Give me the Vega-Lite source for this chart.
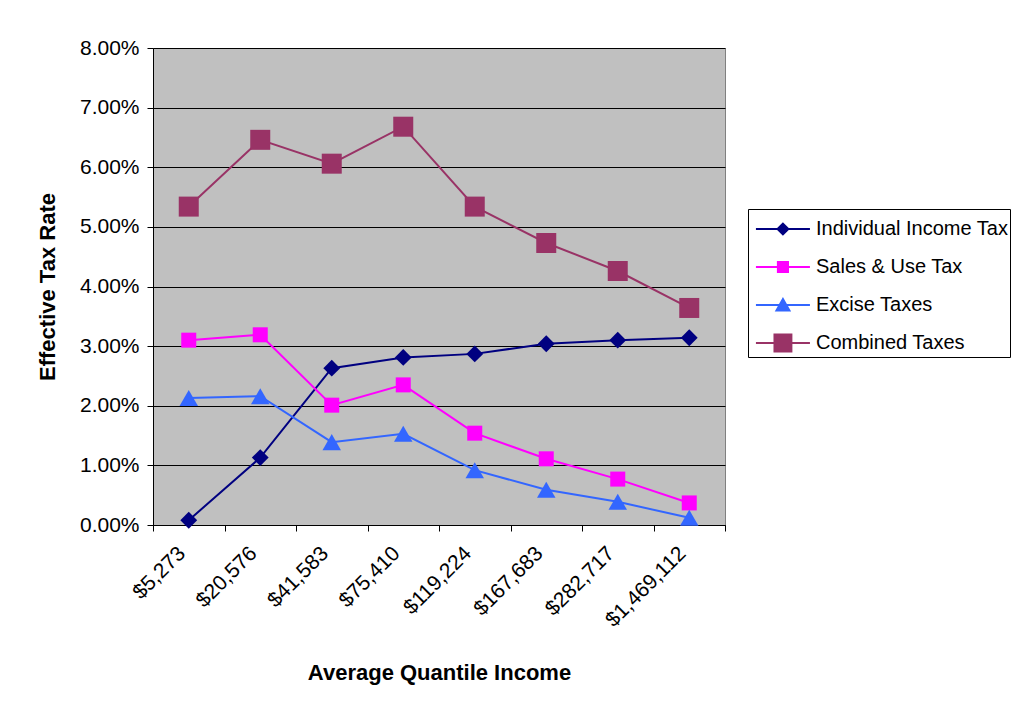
{
  "$schema": "https://vega.github.io/schema/vega-lite/v6.json",
  "width": 572,
  "height": 477,
  "autosize": {"type": "none"},
  "padding": {"left": 153, "top": 48, "right": 296, "bottom": 184},
  "background": "white",
  "config": {
    "view": {"fill": "#C0C0C0", "stroke": "#808080", "strokeWidth": 1},
    "font": "Liberation Sans",
    "axis": {"labelFont": "Liberation Sans", "titleFont": "Liberation Sans", "labelColor": "black", "titleColor": "black", "domainColor": "black", "tickColor": "black"}
  },
  "data": {
    "values": [
      {"income": "$5,273", "series": "Individual Income Tax", "rate": 0.0008},
      {"income": "$20,576", "series": "Individual Income Tax", "rate": 0.0113},
      {"income": "$41,583", "series": "Individual Income Tax", "rate": 0.0263},
      {"income": "$75,410", "series": "Individual Income Tax", "rate": 0.0281},
      {"income": "$119,224", "series": "Individual Income Tax", "rate": 0.0287},
      {"income": "$167,683", "series": "Individual Income Tax", "rate": 0.0304},
      {"income": "$282,717", "series": "Individual Income Tax", "rate": 0.0310},
      {"income": "$1,469,112", "series": "Individual Income Tax", "rate": 0.0314},
      {"income": "$5,273", "series": "Sales & Use Tax", "rate": 0.0310},
      {"income": "$20,576", "series": "Sales & Use Tax", "rate": 0.0319},
      {"income": "$41,583", "series": "Sales & Use Tax", "rate": 0.0201},
      {"income": "$75,410", "series": "Sales & Use Tax", "rate": 0.0235},
      {"income": "$119,224", "series": "Sales & Use Tax", "rate": 0.0154},
      {"income": "$167,683", "series": "Sales & Use Tax", "rate": 0.0111},
      {"income": "$282,717", "series": "Sales & Use Tax", "rate": 0.0077},
      {"income": "$1,469,112", "series": "Sales & Use Tax", "rate": 0.0037},
      {"income": "$5,273", "series": "Excise Taxes", "rate": 0.0213},
      {"income": "$20,576", "series": "Excise Taxes", "rate": 0.0216},
      {"income": "$41,583", "series": "Excise Taxes", "rate": 0.0139},
      {"income": "$75,410", "series": "Excise Taxes", "rate": 0.0153},
      {"income": "$119,224", "series": "Excise Taxes", "rate": 0.0092},
      {"income": "$167,683", "series": "Excise Taxes", "rate": 0.0059},
      {"income": "$282,717", "series": "Excise Taxes", "rate": 0.0039},
      {"income": "$1,469,112", "series": "Excise Taxes", "rate": 0.0012},
      {"income": "$5,273", "series": "Combined Taxes", "rate": 0.0534},
      {"income": "$20,576", "series": "Combined Taxes", "rate": 0.0646},
      {"income": "$41,583", "series": "Combined Taxes", "rate": 0.0606},
      {"income": "$75,410", "series": "Combined Taxes", "rate": 0.0668},
      {"income": "$119,224", "series": "Combined Taxes", "rate": 0.0534},
      {"income": "$167,683", "series": "Combined Taxes", "rate": 0.0473},
      {"income": "$282,717", "series": "Combined Taxes", "rate": 0.0426},
      {"income": "$1,469,112", "series": "Combined Taxes", "rate": 0.0364}
    ]
  },
  "encoding": {
    "x": {
      "field": "income", "type": "nominal", "sort": null,
      "scale": {"type": "band", "paddingInner": 0, "paddingOuter": 0},
      "axis": {
        "title": "Average Quantile Income", "titleFontSize": 22, "titleFontWeight": "bold", "titlePadding": 32,
        "labelFontSize": 21, "labelAngle": -45, "labelAlign": "right", "labelBaseline": "middle",
        "tickBand": "extent", "tickSize": 6, "labelPadding": 19, "labelOffset": -7, "grid": false, "domainWidth": 1
      }
    },
    "y": {
      "field": "rate", "type": "quantitative",
      "scale": {"domain": [0, 0.08], "nice": false, "zero": true},
      "axis": {
        "title": "Effective Tax Rate", "titleFontSize": 22, "titleFontWeight": "bold", "titlePadding": 20,
        "format": ".2%", "values": [0, 0.01, 0.02, 0.03, 0.04, 0.05, 0.06, 0.07, 0.08],
        "labelFontSize": 21, "tickSize": 6, "labelPadding": 8,
        "grid": true, "gridColor": "black", "gridOpacity": 1, "gridWidth": 1
      }
    }
  },
  "resolve": {"scale": {"shape": "independent", "color": "independent"}, "legend": {"shape": "independent", "color": "independent"}},
  "layer": [
    {
      "mark": {"type": "line", "strokeWidth": 2},
      "encoding": {
        "stroke": {"field": "series", "type": "nominal", "legend": null,
          "scale": {"domain": ["Combined Taxes", "Excise Taxes", "Sales & Use Tax", "Individual Income Tax"], "range": ["#993366", "#3366FF", "#FF00FF", "#000080"]}}
      }
    },
    {
      "mark": {"type": "point", "filled": true, "opacity": 1, "strokeWidth": 0},
      "encoding": {
        "fill": {"field": "series", "type": "nominal", "legend": null,
          "scale": {"domain": ["Excise Taxes", "Combined Taxes", "Individual Income Tax", "Sales & Use Tax"], "range": ["#3366FF", "#993366", "#000080", "#FF00FF"]}},
        "shape": {"field": "series", "type": "nominal", "legend": null,
          "scale": {"domain": ["Sales & Use Tax", "Combined Taxes", "Excise Taxes", "Individual Income Tax"], "range": ["square", "square", "triangle-up", "diamond"]}},
        "size": {"field": "series", "type": "nominal", "legend": null,
          "scale": {"domain": ["Combined Taxes", "Excise Taxes", "Individual Income Tax", "Sales & Use Tax"], "range": [400, 225, 169, 169]}}
      }
    },
    {
      "transform": [{"filter": "datum.rate < 0"}],
      "mark": {"type": "point", "filled": false, "opacity": 1, "strokeWidth": 2},
      "encoding": {
        "color": {"field": "series", "type": "nominal",
          "scale": {"domain": ["Individual Income Tax", "Sales & Use Tax", "Excise Taxes", "Combined Taxes"], "range": ["#000080", "#FF00FF", "#3366FF", "#993366"]},
          "legend": {
            "title": null, "orient": "none", "legendX": 595, "legendY": 161,
            "labelFontSize": 20, "labelColor": "black", "labelFont": "Liberation Sans",
            "symbolSize": 1296, "symbolStrokeWidth": 2, "labelOffset": 29, "rowPadding": 9, "padding": 1,
            "strokeColor": "black", "fillColor": "white", "labelLimit": 400
          }
        },
        "shape": {"field": "series", "type": "nominal",
          "scale": {"domain": ["Individual Income Tax", "Sales & Use Tax", "Excise Taxes", "Combined Taxes"],
            "range": [
              "M-0.67,0H2.33M0.83,-0.3L1.13,0L0.83,0.3L0.53,0ZM0.83,-0.22L1.05,0L0.83,0.22L0.61,0ZM0.83,-0.14L0.97,0L0.83,0.14L0.69,0ZM0.83,-0.06L0.89,0L0.83,0.06L0.77,0Z",
              "M-0.67,0H2.33M0.55,-0.28H1.11V0.28H0.55ZM0.63,-0.2H1.03V0.2H0.63ZM0.71,-0.12H0.95V0.12H0.71ZM0.79,-0.04H0.87V0.04H0.79Z",
              "M-0.67,0H2.33M0.47,0.3L1.19,0.3L0.83,-0.33ZM0.58,0.21L1.08,0.21L0.83,-0.23ZM0.69,0.12L0.97,0.12L0.83,-0.13ZM0.79,0.03L0.87,0.03L0.83,-0.03Z",
              "M-0.67,0H2.33M0.36,-0.47H1.3V0.47H0.36ZM0.44,-0.39H1.22V0.39H0.44ZM0.52,-0.31H1.14V0.31H0.52ZM0.6,-0.23H1.06V0.23H0.6ZM0.68,-0.15H0.98V0.15H0.68ZM0.76,-0.07H0.9V0.07H0.76Z"
            ]},
          "legend": {
            "title": null, "orient": "none", "legendX": 595, "legendY": 161,
            "labelFontSize": 20, "labelColor": "black", "labelFont": "Liberation Sans",
            "symbolSize": 1296, "symbolStrokeWidth": 2, "labelOffset": 29, "rowPadding": 9, "padding": 1,
            "strokeColor": "black", "fillColor": "white", "labelLimit": 400
          }
        }
      }
    }
  ]
}
